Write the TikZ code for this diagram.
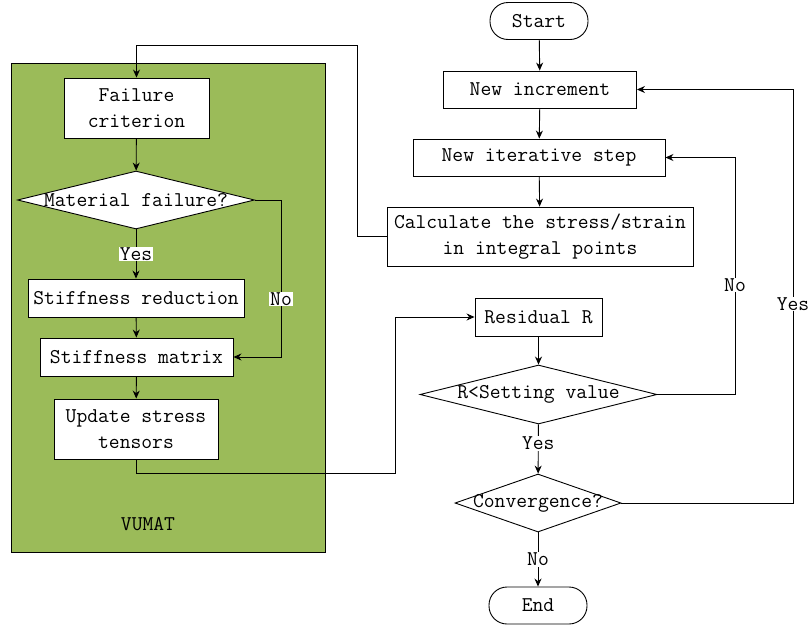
\documentclass[tikz,border=0pt]{standalone}
\usepackage{xcolor}
\usepackage{tikz}
\usetikzlibrary{shapes,arrows.meta,positioning}
\tikzset{>={Stealth[length=8pt,width=7pt]}}
\definecolor{vumatgreen}{RGB}{155,187,89}

\begin{document}
\begin{tikzpicture}[x=1pt,y=-1pt,
                    every node/.style={font=\ttfamily\fontsize{21}{26}\selectfont},
                    process/.style={draw, fill=white, line width=0.9pt, align=center, inner sep=0pt},
                    decision/.style={diamond, draw, fill=white, line width=0.9pt, inner sep=0pt},
                    terminal/.style={draw, fill=white, line width=0.9pt, rounded corners=18pt,
                                     minimum width=98pt, minimum height=37pt, inner sep=0pt},
                    line/.style={line width=0.9pt, ->},
                    tag/.style={fill=white, inner sep=1pt},
                   ]

\useasboundingbox (0,0) rectangle (808,627);

% VUMAT box
\draw[line width=0.9pt, fill=vumatgreen] (11,63) rectangle (325,552);
\node (vumat) at (148,524) {VUMAT};

% main loop
\node[terminal] (start) at (539,21) {Start};
\node[process, minimum width=193pt, minimum height=37pt] (inc) at (540,89.5) {New increment};
\node[process, minimum width=252pt, minimum height=37pt] (iter) at (539,157.5) {New iterative step};
\node[process, minimum width=306pt, minimum height=59pt] (calc) at (540,236.5) {Calculate the stress/strain\\in integral points};
\node[process, minimum width=127pt, minimum height=38pt] (res) at (538.5,317) {Residual R};
\node[decision, minimum width=237pt, minimum height=59pt] (set) at (538.5,394.5) {\makebox[0pt]{R<Setting value}};
\node[decision, minimum width=166pt, minimum height=58pt] (conv) at (538,503) {\makebox[0pt]{Convergence?}};
\node[terminal] (end) at (538,605.5) {End};

% inside VUMAT
\node[process, minimum width=145pt, minimum height=60pt] (fail) at (136.5,108) {Failure\\criterion};
\node[decision, minimum width=237pt, minimum height=58pt] (mat) at (136,200) {\makebox[0pt]{Material failure?}};
\node[process, minimum width=216pt, minimum height=38pt] (red) at (136,298) {Stiffness reduction};
\node[process, minimum width=193pt, minimum height=38pt] (stiff) at (136.5,357) {Stiffness matrix};
\node[process, minimum width=164pt, minimum height=60pt] (upd) at (136,429) {Update stress\\tensors};

\coordinate (top) at (357,45);
\coordinate (low) at (395,473);
\coordinate (mno) at (281,200);
\coordinate (rno) at (735,394.5);
\coordinate (ryes) at (793,503);

\draw[line] (start) -- (inc);
\draw[line] (inc) -- (iter);
\draw[line] (iter) -- (calc);
\draw[line] (calc.west) -| (top) -| (fail.north);
\draw[line] (fail) -- (mat);
\draw[line] (mat) -- (red) node[tag, midway] (myes) {Yes};
\draw[line] (red) -- (stiff);
\draw[line] (mat.east) -- (mno) |- (stiff.east);
\draw[line] (stiff) -- (upd);
\draw[line] (upd.south) |- (low) |- (res.west);
\draw[line] (res) -- (set);
\draw[line] (set) -- (conv) node[tag, pos=0.38] (syes) {Yes};
\draw[line] (conv) -- (end) node[tag, midway] (cno) {No};
\draw[line] (set.east) -- (rno) |- (iter.east);
\draw[line] (conv.east) -- (ryes) |- (inc.east);

\node[tag] (mnotag) at (281,299) {No};
\node[tag] (rnotag) at (735,285) {No};
\node[tag] (ryestag) at (793,304) {Yes};

\end{tikzpicture}
\end{document}
